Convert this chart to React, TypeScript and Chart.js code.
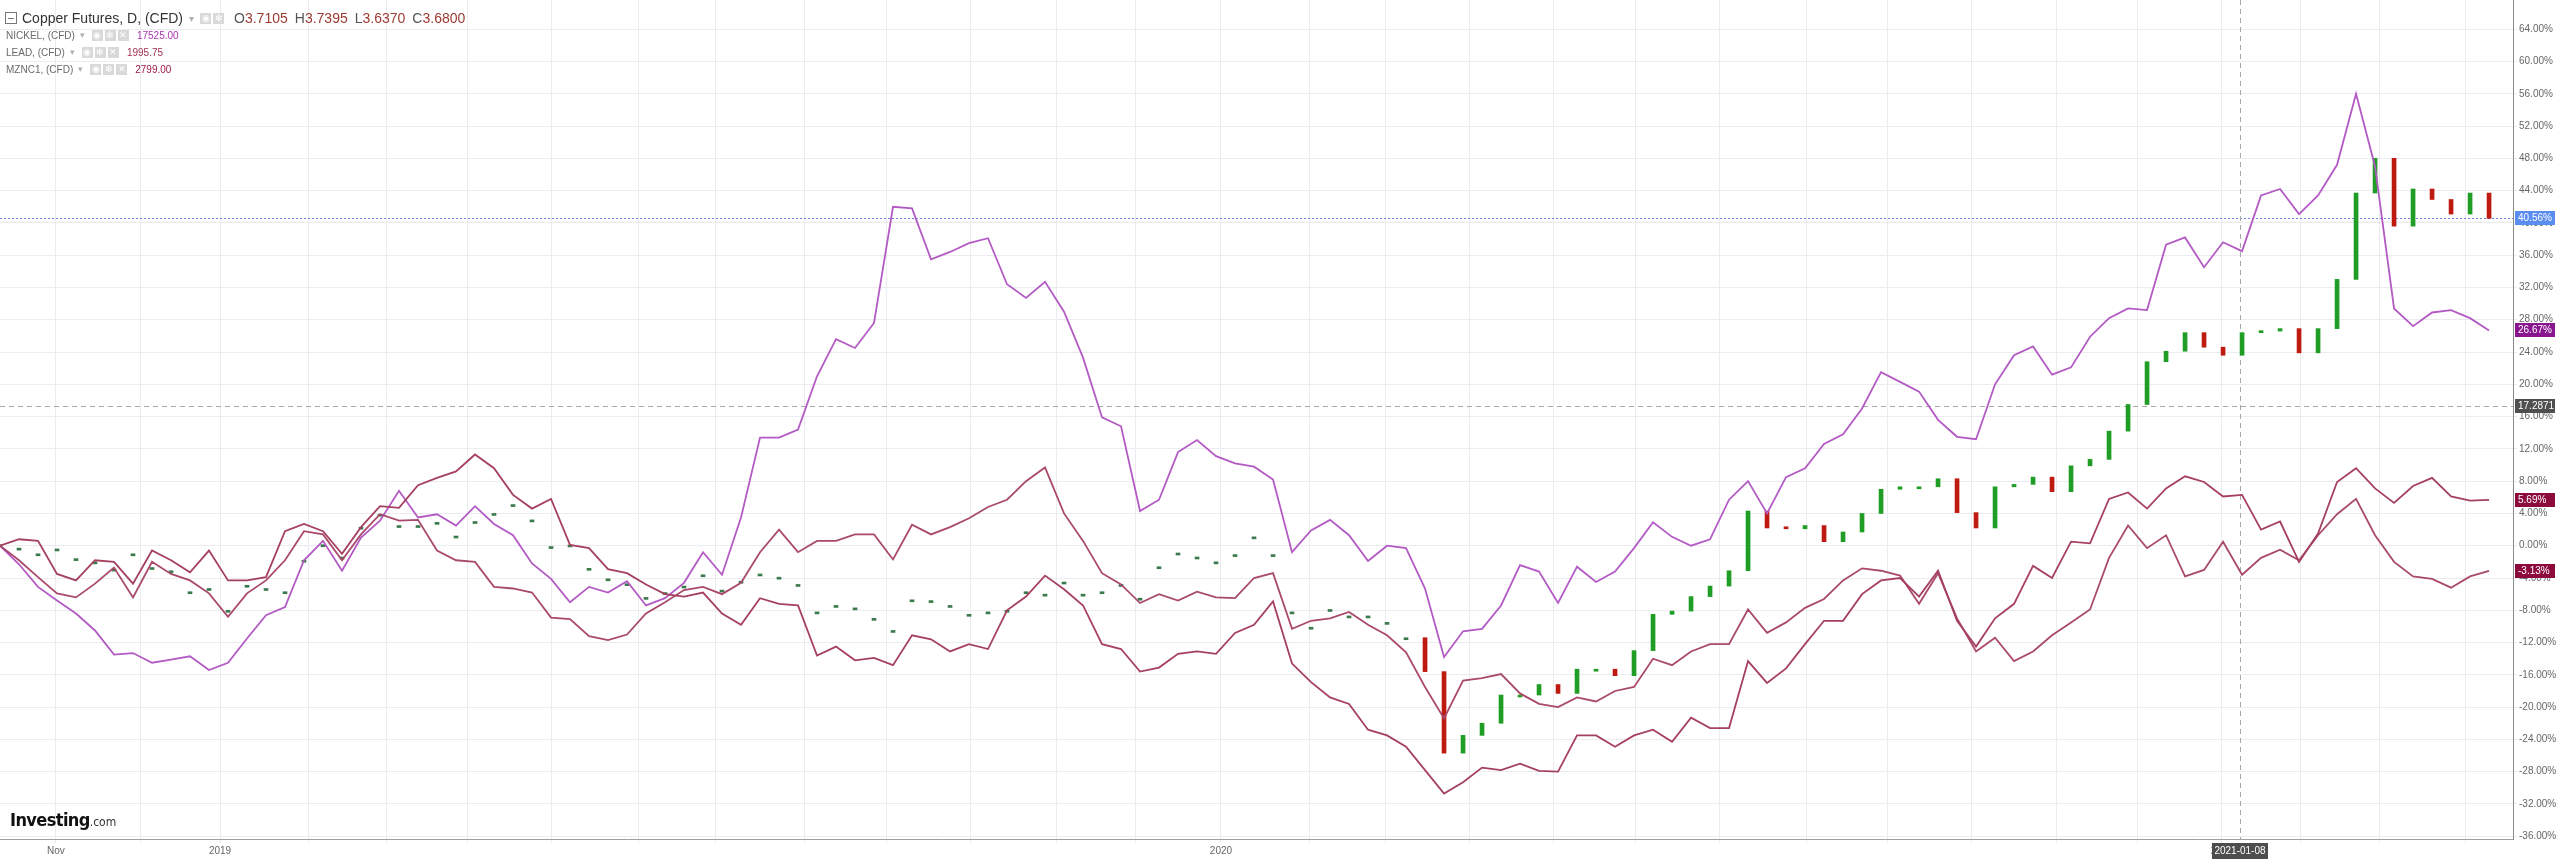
import React, { useEffect, useRef } from "react";
import { Chart, registerables } from "chart.js";

Chart.register(...registerables);

// ---------- data (percent change since the first bar) ----------
const STEP_DAYS = 5; // one sample every 5 trading days
const X_MAX_DAYS = 661.3;
const Y_MIN = -36.34;
const Y_MAX = 67.62;

const nickel = [
  0, -2.3, -5.1, -6.8, -8.4, -10.5, -13.5, -13.3, -14.5, -14.1, -13.7, -15.4, -14.5, -11.5, -8.6, -7.6, -1.8, 0.6, -3.1, 1.0, 3.1, 6.8, 3.5,
  3.9, 2.5, 4.9, 2.7, 1.3, -2.2, -4.1, -7.0, -5.1, -5.8, -4.4, -7.4, -6.5, -4.6, -0.8, -3.6, 3.5, 13.4, 13.4, 14.4, 21.0,
  25.6, 24.5, 27.6, 42.0, 41.8, 35.5, 36.4, 37.5, 38.1, 32.4, 30.7, 32.7, 29.0, 23.3, 15.9, 14.8, 4.3, 5.7, 11.6, 13.1, 11.1, 10.2,
  9.8, 8.2, -0.8, 1.9, 3.2, 1.3, -1.9, 0, -0.3, -5.3, -13.8, -10.6, -10.3, -7.4, -2.4, -3.2, -7.1, -2.6, -4.5, -3.2, -0.3, 2.9,
  1.1, 0, 0.8, 5.7, 8.0, 4.0, 8.5, 9.6, 12.6, 13.8, 17.0, 21.5, 20.3, 19.1, 15.6, 13.5, 13.2, 20.0, 23.6, 24.7, 21.2, 22.1,
  25.9, 28.2, 29.4, 29.2, 37.3, 38.2, 34.5, 37.6, 36.5, 43.4, 44.2, 41.1, 43.4, 47.2, 56.0, 47.0, 29.4, 27.2, 28.9, 29.2, 28.2, 26.67,
];

const lead = [
  0, -1.8, -3.9, -5.9, -6.4, -4.7, -2.7, -6.4, -2.0, -3.5, -4.3, -5.9, -8.8, -5.9, -4.3, -1.8, 1.8, 1.4, -1.8, 1.4, 3.9, 3.1, 3.2,
  -0.6, -1.8, -2.0, -5.1, -5.3, -5.8, -8.9, -9.1, -11.2, -11.7, -11.0, -8.4, -7.0, -5.5, -5.1, -6.0, -4.6, -0.8, 2.0, -0.8, 0.6,
  0.6, 1.4, 1.4, -1.7, 2.6, 1.4, 2.3, 3.4, 4.8, 5.7, 8.0, 9.7, 4.0, 0.6, -3.4, -4.8, -7.1, -6.0, -6.8, -5.7, -6.4, -6.5,
  -4.0, -3.4, -10.3, -9.3, -9.0, -8.2, -9.8, -11.1, -13.2, -17.5, -21.4, -16.7, -16.4, -15.9, -18.3, -19.6, -20.0, -18.8, -19.3, -18.0, -17.5, -14.0,
  -14.8, -13.1, -12.2, -12.2, -7.9, -10.8, -9.5, -7.7, -6.6, -4.3, -2.8, -3.1, -3.7, -7.2, -3.4, -9.0, -13.1, -11.4, -14.3, -13.1, -11.1, -9.5,
  -7.9, -1.5, 2.5, -0.3, 1.3, -3.8, -3.0, 0.5, -3.6, -1.5, -0.5, -1.8, 1.3, 3.9, 5.8, 1.3, -2.0, -3.8, -4.1, -5.2, -3.8, -3.13,
];

const zinc = [
  0, 0.8, 0.6, -3.5, -4.3, -1.8, -2.0, -4.7, -0.6, -1.8, -3.3, -0.6, -4.3, -4.3, -3.9, 1.8, 2.7, 1.8, -1.0, 2.3, 4.9, 4.7, 7.5,
  8.4, 9.2, 11.3, 9.6, 6.3, 4.6, 5.8, 0.1, -0.3, -2.9, -3.4, -4.8, -6.0, -6.3, -5.8, -8.4, -9.8, -6.5, -7.2, -7.4, -13.6,
  -12.5, -14.2, -13.9, -14.8, -11.1, -11.6, -13.1, -12.2, -12.8, -8.0, -6.3, -3.7, -5.4, -7.4, -12.2, -12.8, -15.6, -15.1, -13.4, -13.1, -13.4, -10.8,
  -9.8, -6.9, -14.6, -16.9, -18.8, -19.6, -22.8, -23.5, -24.9, -27.8, -30.7, -29.3, -27.5, -27.8, -27.0, -27.9, -28.0, -23.5, -23.5, -24.9, -23.5, -22.8,
  -24.3, -21.3, -22.6, -22.6, -14.3, -17.0, -15.2, -12.2, -9.3, -9.3, -6.0, -4.3, -4.0, -6.3, -3.1, -9.3, -12.5, -9.0, -7.2, -2.5, -4.0, 0.5,
  0.3, 5.8, 6.6, 4.6, 7.1, 8.6, 7.9, 6.1, 6.3, 2.0, 3.0, -2.0, 1.5, 7.9, 9.6, 7.1, 5.3, 7.4, 8.4, 6.1, 5.6, 5.69,
];

const copperClose = [
  0, -0.3, -1.0, -0.4, -1.6, -2.0, -2.9, -1.0, -2.7, -3.1, -5.7, -5.3, -8.0, -4.9, -5.3, -5.7, -1.8, 0, -1.4, 2.3, 3.9, 2.5, 2.5,
  2.9, 1.2, 3.0, 4.0, 5.1, 3.2, -0.1, 0.1, -2.8, -4.1, -4.7, -6.4, -5.8, -5.0, -3.6, -5.5, -4.4, -3.5, -3.9, -4.8, -8.2,
  -7.4, -7.7, -9.0, -10.5, -6.7, -6.8, -7.4, -8.5, -8.2, -8.0, -5.7, -6.0, -4.5, -6.0, -5.7, -4.8, -6.5, -2.6, -0.9, -1.4, -2.0, -1.1,
  1.1, -1.1, -8.2, -10.1, -7.9, -8.7, -8.7, -9.5, -11.4, -15.6, -25.7, -23.5, -22.0, -18.5, -18.5, -17.2, -18.3, -15.3, -15.3, -16.1, -13.0, -8.5,
  -8.1, -6.3, -5.0, -3.1, 4.3, 2.2, 2.1, 2.5, 0.5, 1.7, 4.0, 7.0, 7.3, 7.3, 8.3, 4.1, 2.2, 7.3, 7.6, 8.5, 6.7, 9.9,
  10.7, 14.2, 17.5, 22.8, 24.1, 26.4, 24.6, 23.6, 26.4, 26.6, 26.9, 23.9, 26.9, 33.0, 43.7, 48.0, 39.6, 44.2, 42.9, 41.1, 43.7, 40.56,
];
// before this sample the copper feed only shows flat (open = close) bars
const COPPER_FLAT_UNTIL = 75;

const monthTickDays = [
  14.7, 37.1, 57.9, 81.1, 101.8, 122.9, 145, 167.9, 188.4, 211.6, 233.4, 255.3, 277.9, 298.9,
  321.3, 344.7, 364.7, 386.8, 408.9, 430.3, 452.4, 475.5, 496.8, 518.7, 541.1, 562.4,
  584.7, 605.5, 626.1, 648.9,
];
const monthTickLabels = [
  "Nov", "", "2019", "", "", "", "", "", "", "", "", "", "", "",
  "2020", "", "", "", "", "", "", "", "", "", "", "",
  "2021", "", "", "",
];
const yTickValues = [-36, -32, -28, -24, -20, -16, -12, -8, -4, 0, 4, 8, 12, 16, 20, 24, 28, 32, 36, 40, 44, 48, 52, 56, 60, 64];

const lastCopper = 40.56;
const crosshairDay = 589.5;
const crosshairValue = 17.29;
const crosshairDate = "2021-01-08";

const axisBadges = [
  { value: 40.56, text: "40.56%", bg: "#5b8cf0" },
  { value: 26.67, text: "26.67%", bg: "#8a168f" },
  { value: 17.29, text: "17.2871", bg: "#4f4f4f" },
  { value: 5.69, text: "5.69%", bg: "#8c0b3c" },
  { value: -3.13, text: "-3.13%", bg: "#8c0b3c" },
];

const FONT = '"Liberation Sans", Arial, sans-serif';

const overlayPlugin = {
  id: "overlay",
  beforeDatasetsDraw(chart: any) {
    const { ctx, chartArea: a, scales } = chart;
    const x = scales.x;
    const y = scales.y;
    ctx.save();
    ctx.lineWidth = 1;
    ctx.strokeStyle = "#6a86f0";
    ctx.setLineDash([2, 2]);
    const yb = Math.round(y.getPixelForValue(lastCopper)) + 0.5;
    ctx.beginPath();
    ctx.moveTo(a.left, yb);
    ctx.lineTo(a.right, yb);
    ctx.stroke();
    ctx.strokeStyle = "#a8a8a8";
    ctx.setLineDash([5, 4]);
    const yc = Math.round(y.getPixelForValue(crosshairValue)) + 0.5;
    ctx.beginPath();
    ctx.moveTo(a.left, yc);
    ctx.lineTo(a.right, yc);
    ctx.stroke();
    const xc = Math.round(x.getPixelForValue(crosshairDay)) + 0.5;
    ctx.beginPath();
    ctx.moveTo(xc, a.top);
    ctx.lineTo(xc, a.bottom);
    ctx.stroke();
    ctx.restore();
  },
  afterDraw(chart: any) {
    const { ctx, chartArea: a, scales } = chart;
    const x = scales.x;
    const y = scales.y;
    ctx.save();
    ctx.font = `10px ${FONT}`;
    ctx.textBaseline = "middle";
    for (const b of axisBadges) {
      const py = Math.round(y.getPixelForValue(b.value));
      ctx.fillStyle = b.bg;
      ctx.fillRect(a.right + 2, py - 7, 40, 14);
      ctx.fillStyle = "#ffffff";
      ctx.textAlign = "left";
      ctx.fillText(b.text, a.right + 5, py + 0.5);
    }
    const xc = Math.round(x.getPixelForValue(crosshairDay));
    ctx.fillStyle = "#4d4d4d";
    ctx.fillRect(xc - 28, a.bottom + 4, 56, 16);
    ctx.fillStyle = "#ffffff";
    ctx.textAlign = "center";
    ctx.fillText(crosshairDate, xc, a.bottom + 12.5);
    ctx.restore();
  },
};

function toPoints(values: number[]) {
  return values.map((v, i) => ({ x: i * STEP_DAYS, y: v }));
}

export default function App() {
  const ref = useRef<HTMLCanvasElement | null>(null);

  useEffect(() => {
    const canvas = ref.current;
    if (!canvas) return;

    const candles = copperClose.map((c, i) => {
      const open = i < COPPER_FLAT_UNTIL ? c : copperClose[i - 1];
      return { x: i * STEP_DAYS, y: [open, c] };
    });
    const candleColors = copperClose.map((c, i) => {
      if (i < COPPER_FLAT_UNTIL) return "#3b7a4c";
      return c >= copperClose[i - 1] ? "#1f9d25" : "#bf1a10";
    });

    const lineDs = (label: string, data: number[], color: string, order: number) => ({
      type: "line",
      label,
      data: toPoints(data),
      borderColor: color,
      borderWidth: 1.8,
      pointRadius: 0,
      tension: 0,
      fill: false,
      order,
    });

    const chart = new Chart(canvas, {
      type: "line",
      data: {
        datasets: [
          lineDs("NICKEL", nickel, "#b35ac4", 3) as any,
          lineDs("LEAD", lead, "#a9496c", 2) as any,
          lineDs("MZNC1", zinc, "#a5405f", 1) as any,
          {
            type: "bar",
            label: "Copper Futures",
            data: candles as any,
            backgroundColor: candleColors,
            borderWidth: 0,
            barThickness: 4,
            minBarLength: 2,
            order: 10,
          } as any,
        ],
      },
      options: {
        animation: false,
        responsive: false,
        devicePixelRatio: 1,
        events: [],
        layout: { padding: 0 },
        plugins: {
          legend: { display: false },
          tooltip: { enabled: false },
          title: { display: false },
        },
        scales: {
          x: {
            type: "linear",
            min: 0,
            max: X_MAX_DAYS,
            offset: false,
            position: "bottom",
            grid: { color: "#ebebf0", lineWidth: 1, tickLength: 4, offset: false },
            border: { color: "#a0a0a0", width: 1 },
            ticks: {
              autoSkip: false,
              maxRotation: 0,
              padding: 2,
              color: "#666666",
              font: { family: FONT, size: 10 },
              callback: (_v: any, idx: number) => monthTickLabels[idx] ?? "",
            },
            afterBuildTicks: (axis: any) => {
              axis.ticks = monthTickDays.map((v) => ({ value: v }));
            },
            afterFit: (axis: any) => {
              axis.height = 20;
              axis.paddingLeft = 0;
              axis.paddingRight = 0;
              axis.paddingTop = 0;
              axis.paddingBottom = 0;
            },
          } as any,
          y: {
            type: "linear",
            position: "right",
            min: Y_MIN,
            max: Y_MAX,
            grid: { color: "#ebebf0", lineWidth: 1, tickLength: 4 },
            border: { color: "#8a8a8a", width: 1 },
            ticks: {
              padding: 2,
              color: "#666666",
              font: { family: FONT, size: 10 },
              callback: (v: any) => `${Number(v).toFixed(2)}%`,
            },
            afterBuildTicks: (axis: any) => {
              axis.ticks = yTickValues.map((v) => ({ value: v }));
            },
            afterFit: (axis: any) => {
              axis.width = 47;
              axis.paddingTop = 0;
              axis.paddingBottom = 0;
              axis.paddingLeft = 0;
              axis.paddingRight = 0;
            },
          } as any,
        },
      } as any,
      plugins: [overlayPlugin as any],
    });

    return () => chart.destroy();
  }, []);

  const iconBox = (glyph: string, size = 11) => (
    <span
      style={{
        display: "inline-block",
        width: size,
        height: size,
        background: "#d9d9d9",
        color: "#ffffff",
        fontSize: size - 2,
        lineHeight: `${size}px`,
        textAlign: "center",
        marginRight: 2,
        verticalAlign: "middle",
      }}
    >
      {glyph}
    </span>
  );

  const subRow = (name: string, value: string, color: string, top: number) => (
    <div
      style={{
        position: "absolute",
        left: 6,
        top,
        height: 14,
        display: "flex",
        alignItems: "center",
        fontSize: 10,
        color: "#6a6a6a",
        whiteSpace: "nowrap",
      }}
    >
      <span>{name}</span>
      <span style={{ color: "#b0b0b0", fontSize: 9, margin: "0 7px 0 5px" }}>▾</span>
      {iconBox("◉")}
      {iconBox("✻")}
      {iconBox("✕")}
      <span style={{ color, marginLeft: 6 }}>{value}</span>
    </div>
  );

  return (
    <div
      style={{
        position: "absolute",
        left: 0,
        top: 0,
        width: 2560,
        height: 859,
        background: "#ffffff",
        fontFamily: FONT,
        overflow: "hidden",
      }}
    >
      <canvas ref={ref} width={2560} height={859} style={{ display: "block", width: 2560, height: 859 }} />

      <div
        style={{
          position: "absolute",
          left: 5,
          top: 8,
          height: 20,
          display: "flex",
          alignItems: "center",
          fontSize: 14,
          color: "#333333",
          whiteSpace: "nowrap",
        }}
      >
        <span
          style={{
            display: "inline-block",
            width: 10,
            height: 10,
            border: "1px solid #777",
            position: "relative",
            marginRight: 5,
          }}
        >
          <span style={{ position: "absolute", left: 2, right: 2, top: 4.5, height: 1, background: "#777" }} />
        </span>
        <span>Copper Futures, D, (CFD)</span>
        <span style={{ color: "#b0b0b0", fontSize: 10, margin: "0 6px 0 6px" }}>▾</span>
        {iconBox("◉", 11)}
        {iconBox("✻", 11)}
        <span style={{ marginLeft: 8 }}>
          <span style={{ color: "#555" }}>O</span>
          <span style={{ color: "#9b3a30" }}>3.7105</span>
          <span style={{ color: "#555", marginLeft: 7 }}>H</span>
          <span style={{ color: "#9b3a30" }}>3.7395</span>
          <span style={{ color: "#555", marginLeft: 7 }}>L</span>
          <span style={{ color: "#9b3a30" }}>3.6370</span>
          <span style={{ color: "#555", marginLeft: 7 }}>C</span>
          <span style={{ color: "#9b3a30" }}>3.6800</span>
        </span>
      </div>

      {subRow("NICKEL, (CFD)", "17525.00", "#ad36b3", 28)}
      {subRow("LEAD, (CFD)", "1995.75", "#a3304f", 45)}
      {subRow("MZNC1, (CFD)", "2799.00", "#a11a48", 62)}

      <div
        style={{
          position: "absolute",
          left: 10,
          top: 809,
          whiteSpace: "nowrap",
          fontFamily: '"Liberation Sans Narrow", "DejaVu Sans Condensed", Arial, sans-serif',
        }}
      >
        <span style={{ fontWeight: 700, fontSize: 18, color: "#111", letterSpacing: -0.6 }}>Investing</span>
        <span style={{ fontSize: 12, color: "#333" }}>.com</span>
      </div>
    </div>
  );
}
